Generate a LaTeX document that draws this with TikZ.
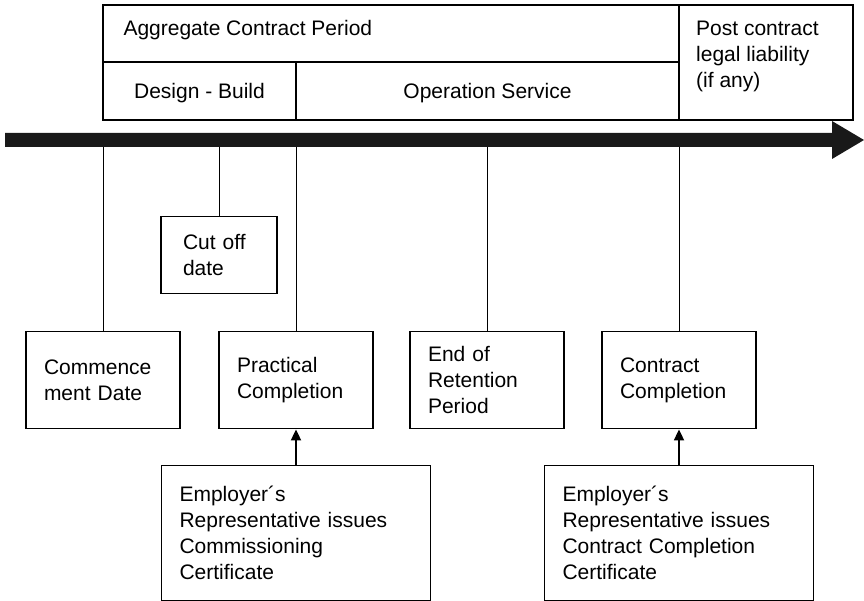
\documentclass[tikz,border=0pt]{standalone}
\usepackage{fontspec}
\setmainfont{Liberation Sans}
\usetikzlibrary{arrows.meta}

\tikzset{
  period/.style={line width=1.3pt},
  stagebox/.style={draw, line width=1.4pt, align=left, inner xsep=18pt, inner ysep=0pt,
    text width=118pt, minimum height=97pt, anchor=north},
  cutbox/.style={stagebox, inner xsep=22pt, text width=72pt, minimum height=77pt},
  issuebox/.style={stagebox, text width=233pt, minimum height=135pt},
  tick/.style={line width=0.9pt},
  issues/.style={line width=1.8pt, -{Triangle[length=11pt,width=10pt]}}
}

\begin{document}
\begin{tikzpicture}[x=1pt,y=-1pt,font=\fontsize{21}{26}\selectfont]
\useasboundingbox (0,0) rectangle (864,601);
% contract periods
\draw[period] (103,5) rectangle (853,120);
\draw[period] (103,62) -- (679,62);
\draw[period] (296,62) -- (296,120);
\draw[period] (679,5) -- (679,120);
\node[anchor=base west] (aggregate) at (120,36) {Aggregate Contract Period};
\node[anchor=base] (design) at (199.5,99) {Design - Build};
\node[anchor=base] (operation) at (487.5,99) {Operation Service};
\node[anchor=north west, inner sep=0pt, align=left] (post) at (696,21) {Post contract\\legal liability\\(if any)};
% time line
\fill[black!90] (5,133) -- (832,133) -- (832,121) -- (864,140) -- (832,159) -- (832,147) -- (5,147) -- cycle;
\coordinate (axis) at (0,147);
% dates
\node[stagebox] (commence) at (103,331) {Commence\\ment Date};
\node[stagebox] (practical) at (296,331) {Practical\\Completion};
\node[stagebox] (retention) at (487,331) {End of\\Retention\\Period};
\node[stagebox] (contract) at (679,331) {Contract\\Completion};
\node[cutbox] (cutoff) at (219,216) {Cut off\\date};
\node[issuebox] (commission) at (296,465) {Employer´s\\Representative issues\\Commissioning\\Certificate};
\node[issuebox] (certificate) at (679,465) {Employer´s\\Representative issues\\Contract Completion\\Certificate};
\foreach \d in {commence,practical,retention,contract,cutoff}
  \draw[tick] (\d.north) -- (\d.north |- axis);
\draw[issues] (commission.north) -- (practical.south);
\draw[issues] (certificate.north) -- (contract.south);
\end{tikzpicture}
\end{document}
